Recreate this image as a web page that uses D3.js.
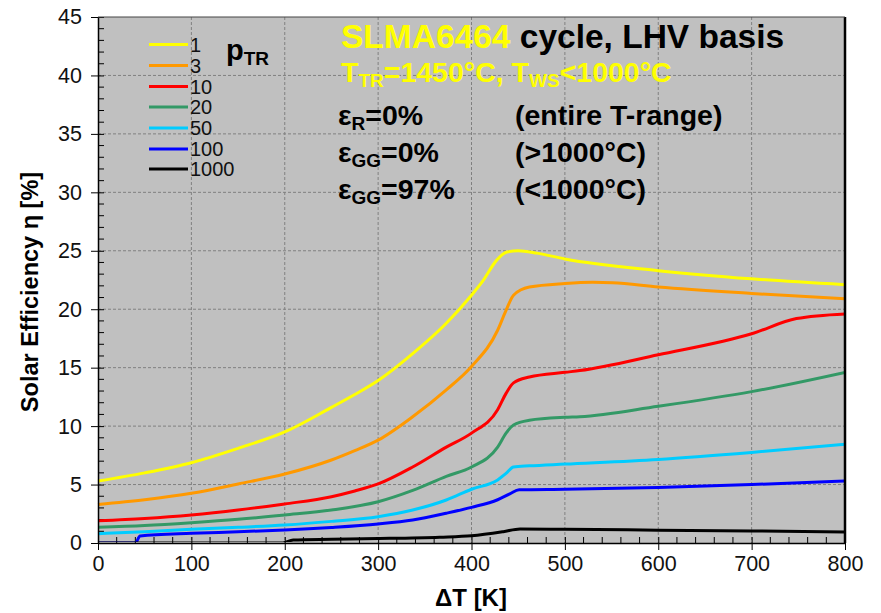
<!DOCTYPE html>
<html>
<head>
<meta charset="utf-8">
<script src="https://cdn.jsdelivr.net/npm/d3@7"></script>
<style>
  body { margin: 0; background: #fff; }
  svg { font-family: Arial, "Liberation Sans", sans-serif; }
</style>
</head>
<body>
<div id="chart"></div>
<script>
// Series: [ΔT (K), solar efficiency η (%)] for each reduction pressure p_TR.
const pTR = ["1", "3", "10", "20", "50", "100", "1000"];
const colors = ["#ffff00", "#ff9900", "#ff0000", "#339966", "#00ccff", "#0000ff", "#000000"];

const eta1 = [[0, 5.3], [50, 6.0], [100, 6.87], [150, 8.1], [200, 9.5], [250, 11.6], [275, 12.7],
  [300, 13.9], [337, 16.2], [373, 18.8], [400, 21.2], [412, 22.4], [427, 24.2], [438, 24.9],
  [450, 25.0], [470, 24.8], [500, 24.3], [600, 23.3], [700, 22.6], [800, 22.1]];
const eta3 = [[0, 3.3], [50, 3.7], [100, 4.25], [150, 5.05], [200, 5.9], [250, 7.1], [275, 7.9],
  [300, 8.8], [337, 10.8], [373, 13.1], [400, 15.1], [428, 18.2], [437, 19.9], [445, 21.2],
  [462, 21.9], [500, 22.2], [530, 22.3], [551, 22.27], [600, 21.9], [700, 21.35], [800, 20.9]];
const eta10 = [[0, 1.9], [50, 2.1], [100, 2.4], [150, 2.82], [200, 3.34], [250, 3.96], [275, 4.45],
  [300, 5.05], [337, 6.5], [373, 8.2], [400, 9.4], [428, 11.4], [437, 12.8], [445, 13.7],
  [462, 14.2], [500, 14.6], [516, 14.75], [600, 16.1], [700, 17.9], [748, 19.2], [800, 19.6]];
const eta20 = [[0, 1.35], [50, 1.5], [100, 1.74], [150, 2.03], [200, 2.4], [250, 2.82], [300, 3.53],
  [337, 4.5], [373, 5.7], [400, 6.5], [428, 8.2], [437, 9.4], [445, 10.1], [462, 10.5],
  [500, 10.75], [516, 10.8], [600, 11.7], [700, 12.95], [800, 14.6]];
const eta50 = [[0, 0.8], [50, 0.97], [100, 1.17], [150, 1.34], [200, 1.54], [250, 1.85], [300, 2.25],
  [337, 2.82], [373, 3.68], [400, 4.6], [428, 5.4], [437, 5.95], [445, 6.5], [462, 6.6],
  [500, 6.75], [600, 7.15], [700, 7.75], [800, 8.45]];
const eta100 = [[0, 0], [40, 0], [45, 0.6], [100, 0.83], [150, 0.96], [200, 1.11], [250, 1.33],
  [300, 1.63], [337, 1.97], [373, 2.55], [400, 3.05], [428, 3.7], [441, 4.2], [451, 4.55],
  [500, 4.6], [600, 4.75], [700, 5.0], [800, 5.3]];
const eta1000 = [[0, 0], [198, 0], [209, 0.26], [250, 0.32], [300, 0.38], [366, 0.5], [400, 0.62],
  [434, 0.97], [452, 1.2], [500, 1.17], [600, 1.1], [700, 1.03], [800, 0.95]];

const seriesData = [eta1, eta3, eta10, eta20, eta50, eta100, eta1000];

const xTicks = [0, 100, 200, 300, 400, 500, 600, 700, 800];
const yTicks = [0, 5, 10, 15, 20, 25, 30, 35, 40, 45];

const width = 881, height = 613;
const margin = {left: 98, right: 36, top: 17, bottom: 70};
const iw = width - margin.left - margin.right;
const ih = height - margin.top - margin.bottom;

const x = d3.scaleLinear().domain([0, 800]).range([0, iw]);
const y = d3.scaleLinear().domain([0, 45]).range([ih, 0]);

const svg = d3.select("#chart").append("svg")
    .attr("width", width)
    .attr("height", height);

const g = svg.append("g").attr("transform", `translate(${margin.left},${margin.top})`);

// Plot background.
g.append("rect")
    .attr("width", iw).attr("height", ih)
    .attr("fill", "#c0c0c0");

// Dashed grid.
g.append("g").selectAll("line")
    .data(xTicks.slice(1, -1))
    .join("line")
    .attr("x1", d => x(d)).attr("x2", d => x(d))
    .attr("y1", 0).attr("y2", ih)
    .attr("stroke", "#808080").attr("stroke-width", 1).attr("stroke-dasharray", "3,2");
g.append("g").selectAll("line")
    .data(yTicks.slice(1, -1))
    .join("line")
    .attr("y1", d => y(d)).attr("y2", d => y(d))
    .attr("x1", 0).attr("x2", iw)
    .attr("stroke", "#808080").attr("stroke-width", 1).attr("stroke-dasharray", "3,2");

// Minor ticks (inside).
g.append("g").selectAll("line")
    .data(d3.range(0, 801, 20).filter(d => d % 100 !== 0))
    .join("line")
    .attr("x1", d => x(d)).attr("x2", d => x(d))
    .attr("y1", ih).attr("y2", ih - 6)
    .attr("stroke", "#000").attr("stroke-width", 1);
g.append("g").selectAll("line")
    .data(d3.range(0, 46, 1).filter(d => d % 5 !== 0))
    .join("line")
    .attr("y1", d => y(d)).attr("y2", d => y(d))
    .attr("x1", 0).attr("x2", 6)
    .attr("stroke", "#000").attr("stroke-width", 1);

// Lines, clipped to plot area.
svg.append("clipPath").attr("id", "clip")
    .append("rect").attr("x", -2).attr("y", -2).attr("width", iw + 2).attr("height", ih + 1);

const line = d3.line()
    .x(d => x(d[0]))
    .y(d => y(d[1]))
    .curve(d3.curveMonotoneX);

g.append("g").attr("clip-path", "url(#clip)")
    .selectAll("path")
    .data(seriesData)
    .join("path")
    .attr("d", line)
    .attr("fill", "none")
    .attr("stroke", (d, i) => colors[i])
    .attr("stroke-width", 3)
    .attr("stroke-linejoin", "round");

// Axes (major ticks cross the axis line).
const xAxis = g.append("g").attr("transform", `translate(0,${ih})`)
    .call(d3.axisBottom(x).tickValues(xTicks).tickSizeInner(7).tickSizeOuter(0).tickPadding(6));
const yAxis = g.append("g")
    .call(d3.axisLeft(y).tickValues(yTicks).tickSizeInner(7).tickSizeOuter(0).tickPadding(9));
[xAxis, yAxis].forEach(a => {
    a.select(".domain").attr("stroke", "#000").attr("stroke-width", 1.5);
    a.selectAll(".tick line").attr("stroke", "#000");
    a.selectAll(".tick text").attr("font-size", 21.5).attr("fill", "#111")
        .attr("font-family", "Arial, 'Liberation Sans', sans-serif");
});
xAxis.selectAll(".tick line").attr("y1", -6);
yAxis.selectAll(".tick line").attr("x1", 6);

// Right and top frame.
g.append("line").attr("x1", iw).attr("x2", iw).attr("y1", 0).attr("y2", ih)
    .attr("stroke", "#000").attr("stroke-width", 2.5);
g.append("line").attr("x1", 0).attr("x2", iw).attr("y1", 0).attr("y2", 0)
    .attr("stroke", "#444").attr("stroke-width", 1);

// Axis titles.
svg.append("text")
    .attr("transform", "translate(38,292) rotate(-90)")
    .attr("text-anchor", "middle")
    .attr("font-size", 23.5).attr("font-weight", "bold")
    .text("Solar Efficiency η [%]");
svg.append("text")
    .attr("x", 471).attr("y", 606)
    .attr("text-anchor", "middle")
    .attr("font-size", 24).attr("font-weight", "bold")
    .text("ΔT [K]");

// Legend.
const legend = svg.append("g");
const legendY = [44.5, 65.5, 86.5, 107, 128, 149, 169];
pTR.forEach((p, i) => {
    legend.append("line")
        .attr("x1", 149).attr("x2", 188)
        .attr("y1", legendY[i]).attr("y2", legendY[i])
        .attr("stroke", colors[i]).attr("stroke-width", 3);
    legend.append("text")
        .attr("x", 190).attr("y", legendY[i] + 7)
        .attr("font-size", 20).attr("fill", "#111")
        .text(p);
});
const pLabel = legend.append("text").attr("x", 226).attr("y", 60)
    .attr("font-size", 29).attr("font-weight", "bold");
pLabel.append("tspan").text("p");
pLabel.append("tspan").attr("font-size", 19).attr("dy", 5).text("TR");

// Annotation block.
const ann = svg.append("g").attr("font-weight", "bold");
const t1 = ann.append("text").attr("x", 341).attr("y", 48).attr("font-size", 33.5);
t1.append("tspan").attr("fill", "#ffff00").text("SLMA6464");
t1.append("tspan").attr("fill", "#000").text(" cycle, LHV basis");

const t2 = ann.append("text").attr("x", 341).attr("y", 82).attr("font-size", 28.5).attr("fill", "#ffff00");
t2.append("tspan").text("T");
t2.append("tspan").attr("font-size", 19).attr("dy", 5).text("TR");
t2.append("tspan").attr("dy", -5).text("=1450°C, T");
t2.append("tspan").attr("font-size", 19).attr("dy", 5).text("WS");
t2.append("tspan").attr("dy", -5).text("<1000°C");

const rows = [
    {sym: "ε", sub: "R", val: "=0%", note: "(entire T-range)", yy: 125},
    {sym: "ε", sub: "GG", val: "=0%", note: "(>1000°C)", yy: 162},
    {sym: "ε", sub: "GG", val: "=97%", note: "(<1000°C)", yy: 199}
];
rows.forEach(r => {
    const t = ann.append("text").attr("x", 338).attr("y", r.yy).attr("font-size", 28.5);
    t.append("tspan").text(r.sym);
    t.append("tspan").attr("font-size", 19).attr("dy", 5).text(r.sub);
    t.append("tspan").attr("dy", -5).text(r.val);
    ann.append("text").attr("x", 515).attr("y", r.yy).attr("font-size", 28.5).text(r.note);
});
</script>
</body>
</html>
